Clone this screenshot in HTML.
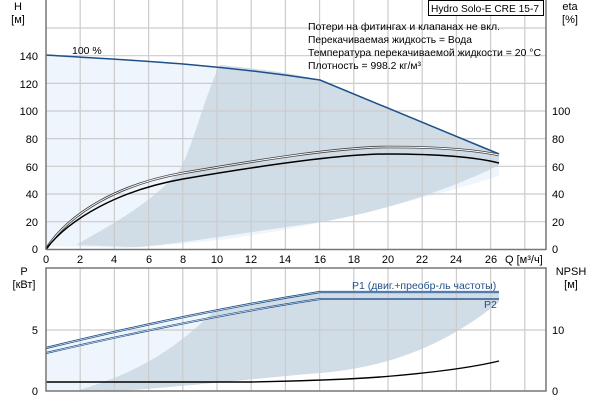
<!DOCTYPE html>
<html><head><meta charset="utf-8"><style>
body{margin:0;background:#fff;}
svg{display:block;font-family:"Liberation Sans",sans-serif;font-size:11px;}
</style></head><body>
<svg width="600" height="400" viewBox="0 0 600 400" xmlns="http://www.w3.org/2000/svg">
<g>
<path d="M46,55 C120,60 200,62 320,80 L499,154 L499,176 C420,200 300,232 200,242 L130,248 L46,246 Z" fill="#eef5fc"/>
<path d="M220,65 C270,70 300,75 320,80 L499,154 L499,165 C460,185 380,215 300,225 C230,235 150,248 130,247 L76,245 C110,225 150,205 180,170 C195,140 205,95 220,65 Z" fill="#d0dce6"/>
<g stroke="#cccccc" stroke-width="1.2">
<line x1="80.2" y1="0" x2="80.2" y2="249"/><line x1="114.4" y1="0" x2="114.4" y2="249"/><line x1="148.6" y1="0" x2="148.6" y2="249"/><line x1="182.8" y1="0" x2="182.8" y2="249"/><line x1="217" y1="0" x2="217" y2="249"/><line x1="251.2" y1="0" x2="251.2" y2="249"/><line x1="285.4" y1="0" x2="285.4" y2="249"/><line x1="319.6" y1="0" x2="319.6" y2="249"/><line x1="353.8" y1="0" x2="353.8" y2="249"/><line x1="388" y1="0" x2="388" y2="249"/><line x1="422.2" y1="0" x2="422.2" y2="249"/><line x1="456.4" y1="0" x2="456.4" y2="249"/><line x1="490.6" y1="0" x2="490.6" y2="249"/><line x1="524.8" y1="0" x2="524.8" y2="249"/>
<line x1="46" y1="28" x2="546" y2="28"/><line x1="46" y1="55.7" x2="546" y2="55.7"/><line x1="46" y1="83.4" x2="546" y2="83.4"/><line x1="46" y1="111" x2="546" y2="111"/><line x1="46" y1="138.6" x2="546" y2="138.6"/><line x1="46" y1="166.3" x2="546" y2="166.3"/><line x1="46" y1="194" x2="546" y2="194"/><line x1="46" y1="221.7" x2="546" y2="221.7"/>
</g>
<path d="M46,55 C120,60 200,62 320,80 L499,154" fill="none" stroke="#1f4f8a" stroke-width="1.5"/>
<path d="M46,249 C70,212 120,184 183,173 C259,160 340,147 388,147 C436,147 475,150 499,155" fill="none" stroke="#444" stroke-width="2.6"/>
<path d="M46,249 C70,212 120,184 183,173 C259,160 340,147 388,147 C436,147 475,150 499,155" fill="none" stroke="#fff" stroke-width="0.9"/>
<path d="M46,249 C70,218 120,190 183,179 C259,166 340,154 388,154 C436,154 475,157 499,163" fill="none" stroke="#000" stroke-width="1.5"/>
<line x1="46" y1="0" x2="46" y2="250" stroke="#777" stroke-width="1.5"/>
<line x1="546" y1="0" x2="546" y2="250" stroke="#777" stroke-width="1.5"/>
<line x1="46" y1="249.5" x2="546" y2="249.5" stroke="#777" stroke-width="1.5"/>
<rect x="428.5" y="0.5" width="115" height="15" fill="#fff" stroke="#000"/>
<text x="431" y="12" font-size="10.5" textLength="108" lengthAdjust="spacingAndGlyphs">Hydro Solo-E CRE 15-7</text>
<g font-size="10.5">
<text x="308" y="30" textLength="192" lengthAdjust="spacingAndGlyphs">Потери на фитингах и клапанах не вкл.</text>
<text x="308" y="43" textLength="164" lengthAdjust="spacingAndGlyphs">Перекачиваемая жидкость = Вода</text>
<text x="308" y="56" textLength="233" lengthAdjust="spacingAndGlyphs">Температура перекачиваемой жидкости = 20 °C</text>
<text x="308" y="69" textLength="113" lengthAdjust="spacingAndGlyphs">Плотность = 998.2 кг/м³</text>
</g>
<text x="72" y="54" font-size="10.5">100 %</text>
<text x="18" y="10" text-anchor="middle">H</text>
<text x="18" y="23" text-anchor="middle">[м]</text>
<text x="570" y="10" text-anchor="middle">eta</text>
<text x="570" y="23" text-anchor="middle">[%]</text>
<g text-anchor="end">
<text x="38" y="60">140</text><text x="38" y="88">120</text><text x="38" y="115">100</text><text x="38" y="143">80</text><text x="38" y="171">60</text><text x="38" y="198">40</text><text x="38" y="226">20</text><text x="38" y="253">0</text>
</g>
<g>
<text x="552" y="115">100</text><text x="552" y="143">80</text><text x="552" y="171">60</text><text x="552" y="198">40</text><text x="552" y="226">20</text><text x="552" y="253">0</text>
</g>
<g text-anchor="middle">
<text x="46" y="263">0</text><text x="80" y="263">2</text><text x="114" y="263">4</text><text x="149" y="263">6</text><text x="183" y="263">8</text><text x="217" y="263">10</text><text x="251" y="263">12</text><text x="285" y="263">14</text><text x="320" y="263">16</text><text x="354" y="263">18</text><text x="388" y="263">20</text><text x="422" y="263">22</text><text x="456" y="263">24</text><text x="491" y="263">26</text>
</g>
<text x="505" y="263">Q [м³/ч]</text>
</g>
<g>
<path d="M46,348 C120,330 220,308 320,292 L499,292 L499,302 C440,350 380,368 320,373 L200,382 L120,391 L46,391 Z" fill="#eef5fc"/>
<path d="M215,310 C260,300 290,296 320,292 L499,292 L499,302 C440,350 380,368 320,373 C260,378 200,385 120,391 L76,391 C130,375 170,355 215,310 Z" fill="#d0dce6"/>
<g stroke="#cccccc" stroke-width="1.2">
<line x1="80.2" y1="268" x2="80.2" y2="391"/><line x1="114.4" y1="268" x2="114.4" y2="391"/><line x1="148.6" y1="268" x2="148.6" y2="391"/><line x1="182.8" y1="268" x2="182.8" y2="391"/><line x1="217" y1="268" x2="217" y2="391"/><line x1="251.2" y1="268" x2="251.2" y2="391"/><line x1="285.4" y1="268" x2="285.4" y2="391"/><line x1="319.6" y1="268" x2="319.6" y2="391"/><line x1="353.8" y1="268" x2="353.8" y2="391"/><line x1="388" y1="268" x2="388" y2="391"/><line x1="422.2" y1="268" x2="422.2" y2="391"/><line x1="456.4" y1="268" x2="456.4" y2="391"/><line x1="490.6" y1="268" x2="490.6" y2="391"/><line x1="524.8" y1="268" x2="524.8" y2="391"/>
<line x1="46" y1="330" x2="546" y2="330"/>
</g>
<path d="M46,348 C120,330 220,308 320,292 L499,292" fill="none" stroke="#1f4f8a" stroke-width="2.2"/>
<path d="M46,348 C120,330 220,308 320,292 L499,292" fill="none" stroke="#fff" stroke-width="0.6"/>
<path d="M46,353 C120,336 220,314 320,299 L499,299" fill="none" stroke="#1f4f8a" stroke-width="2"/>
<path d="M46,353 C120,336 220,314 320,299 L499,299" fill="none" stroke="#fff" stroke-width="0.6"/>
<path d="M46,382 L250,382 C300,381 340,380 380,377 C430,373 470,368 499,361" fill="none" stroke="#000" stroke-width="1.4"/>
<rect x="46" y="268" width="500" height="123" fill="none" stroke="#777" stroke-width="1.5"/>
<text x="352" y="289" fill="#1f4f8a" font-size="10.5">P1 (двиг.+преобр-ль частоты)</text>
<text x="484" y="308" fill="#1f4f8a" font-size="10.5">P2</text>
<text x="24" y="275" text-anchor="middle">P</text>
<text x="24" y="288" text-anchor="middle">[кВт]</text>
<text x="571" y="275" text-anchor="middle">NPSH</text>
<text x="571" y="288" text-anchor="middle">[м]</text>
<text x="38" y="334" text-anchor="end">5</text>
<text x="38" y="395" text-anchor="end">0</text>
<text x="552" y="334">10</text>
<text x="552" y="395">0</text>
</g>
</svg>
</body></html>
